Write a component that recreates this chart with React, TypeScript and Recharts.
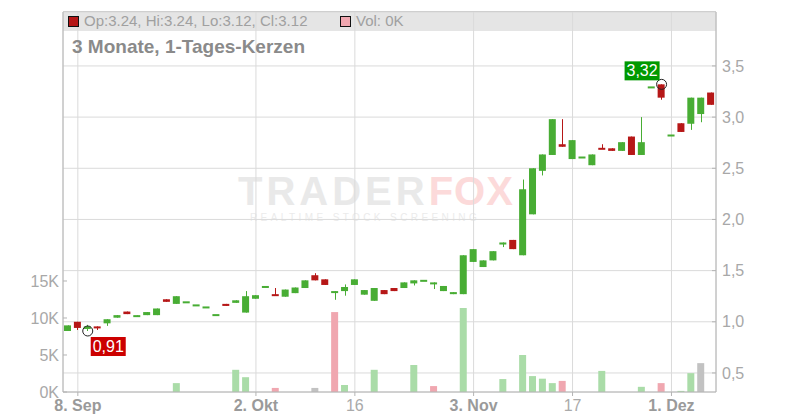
import { ComposedChart, Bar, Cell, XAxis, YAxis, CartesianGrid, ReferenceDot } from 'recharts';

const dates = [
  '05.09', '08.09', '09.09', '10.09', '11.09', '12.09', '15.09', '16.09', '17.09', '18.09', '19.09',
  '22.09', '23.09', '24.09', '25.09', '26.09', '29.09', '30.09', '01.10', '02.10', '03.10',
  '06.10', '07.10', '08.10', '09.10', '10.10', '13.10', '14.10', '15.10', '16.10', '17.10',
  '20.10', '21.10', '22.10', '23.10', '24.10', '27.10', '28.10', '29.10', '30.10', '31.10',
  '03.11', '04.11', '05.11', '06.11', '07.11', '10.11', '11.11', '12.11', '13.11', '14.11',
  '17.11', '18.11', '19.11', '20.11', '21.11', '24.11', '25.11', '26.11', '27.11', '28.11',
  '01.12', '02.12', '03.12', '04.12', '05.12',
];

const open = [
  0.91, 1.0, 0.93, 0.955, 0.985, 1.04, 1.1, 1.06, 1.065, 1.065, 1.22,
  1.175, 1.2, 1.17, 1.15, 1.075, 1.175, 1.185, 1.09, 1.225, 1.35,
  1.27, 1.245, 1.28, 1.33, 1.455, 1.415, 1.285, 1.3, 1.36, 1.265,
  1.205, 1.31, 1.33, 1.33, 1.375, 1.41, 1.375, 1.3, 1.27, 1.27,
  1.585, 1.535, 1.6, 1.755, 1.8, 1.65, 2.05, 2.475, 2.63, 2.735,
  2.59, 2.615, 2.53, 2.7, 2.695, 2.67, 2.81, 2.63, 3.3, 3.32,
  2.83, 2.94, 2.935, 3.03, 3.24,
];
const high = [
  0.965, 1.0, 0.97, 0.955, 1.025, 1.065, 1.1, 1.065, 1.095, 1.13, 1.22,
  1.25, 1.2, 1.17, 1.15, 1.075, 1.175, 1.21, 1.3, 1.26, 1.35,
  1.33, 1.315, 1.335, 1.405, 1.475, 1.415, 1.3, 1.365, 1.415, 1.31,
  1.33, 1.31, 1.33, 1.385, 1.405, 1.41, 1.385, 1.35, 1.29, 1.65,
  1.71, 1.6, 1.69, 1.775, 1.8, 2.39, 2.5, 2.635, 2.98, 2.98,
  2.775, 2.615, 2.635, 2.735, 2.695, 2.755, 2.81, 3.0, 3.3, 3.32,
  2.83, 2.94, 3.19, 3.19, 3.24,
];
const low = [
  0.91, 0.92, 0.91, 0.92, 0.96, 1.04, 1.075, 1.06, 1.065, 1.065, 1.195,
  1.175, 1.2, 1.17, 1.15, 1.075, 1.155, 1.185, 1.09, 1.225, 1.35,
  1.255, 1.245, 1.28, 1.33, 1.405, 1.36, 1.215, 1.255, 1.36, 1.265,
  1.205, 1.27, 1.3, 1.33, 1.355, 1.41, 1.32, 1.3, 1.27, 1.27,
  1.585, 1.535, 1.6, 1.73, 1.71, 1.65, 2.05, 2.43, 2.63, 2.71,
  2.59, 2.615, 2.53, 2.69, 2.67, 2.67, 2.63, 2.63, 3.3, 3.17,
  2.83, 2.855, 2.875, 2.95, 3.12,
];
const close = [
  0.965, 0.94, 0.955, 0.94, 1.025, 1.065, 1.075, 1.065, 1.095, 1.13, 1.195,
  1.25, 1.2, 1.17, 1.15, 1.075, 1.155, 1.21, 1.25, 1.26, 1.35,
  1.255, 1.315, 1.335, 1.405, 1.405, 1.36, 1.3, 1.34, 1.415, 1.31,
  1.33, 1.27, 1.3, 1.385, 1.405, 1.41, 1.385, 1.35, 1.29, 1.65,
  1.71, 1.6, 1.69, 1.775, 1.71, 2.295, 2.5, 2.635, 2.98, 2.71,
  2.775, 2.615, 2.635, 2.69, 2.67, 2.755, 2.63, 2.755, 3.3, 3.19,
  2.83, 2.855, 3.19, 3.19, 3.12,
];
const volume = [
  0, 0, 0, 0, 0, 0, 0, 0, 0, 0, 0,
  1200, 0, 0, 0, 0, 0, 3000, 2000, 0, 0,
  550, 0, 0, 0, 550, 0, 10800, 950, 0, 0,
  3000, 0, 0, 0, 3650, 0, 800, 0, 0, 11350,
  0, 0, 0, 1750, 0, 5000, 2150, 1800, 1200, 1500,
  0, 0, 0, 2850, 0, 0, 0, 700, 0, 1200,
  0, 150, 2550, 3900, 0,
];

const tickDates = ['08.09', '02.10', '16.10', '03.11', '17.11', '01.12'];
const tickNames: Record<string, string> = {
  '08.09': '8. Sep',
  '02.10': '2. Okt',
  '16.10': '16',
  '03.11': '3. Nov',
  '17.11': '17',
  '01.12': '1. Dez',
};
const priceTicks = [0.5, 1.0, 1.5, 2.0, 2.5, 3.0, 3.5];
const volTicks = [0, 5000, 10000, 15000];

const GREEN = '#48ad34';
const RED = '#b61717';
const FONT = '"Liberation Sans", Arial, sans-serif';

const data = dates.map((d, i) => ({
  d,
  o: open[i],
  h: high[i],
  l: low[i],
  c: close[i],
  v: volume[i],
}));

function volColor(i: number) {
  if (i === 0 || close[i] > close[i - 1]) return '#aadca8';
  if (close[i] < close[i - 1]) return '#f0a7b0';
  return '#c2c2c2';
}

function Candle(props: any) {
  const { x, y, width, height, payload } = props;
  const { o, h, l, c } = payload;
  const py = (p: number) => (h === l ? y : y + ((h - p) / (h - l)) * height);
  const color = c >= o ? GREEN : RED;
  const top = py(Math.max(o, c));
  const bot = py(Math.min(o, c));
  const cx = Math.round(x + width / 2) + 0.5;
  return (
    <g>
      {height > 0 && <line x1={cx} x2={cx} y1={y} y2={y + height} stroke={color} strokeWidth={1} />}
      <rect x={x} y={top} width={width} height={Math.max(bot - top, 2)} fill={color} />
    </g>
  );
}

function DateTick({ x, y, payload }: any) {
  const name = tickNames[payload.value] ?? payload.value;
  const bold = name.includes('.');
  return (
    <text
      x={x}
      y={y + 13}
      textAnchor="middle"
      fontFamily={FONT}
      fontSize={16}
      fontWeight={bold ? 'bold' : 'normal'}
      fill={bold ? '#9a9a9a' : '#aaaaaa'}
    >
      {name}
    </text>
  );
}

function LowTag({ cx, cy }: any) {
  return (
    <g>
      <circle cx={cx} cy={cy} r={5} fill="none" stroke="#222" strokeWidth={1} />
      <rect x={cx + 3} y={cy + 6} width={35} height={19} fill="#cc0000" />
      <text x={cx + 20.5} y={cy + 21} textAnchor="middle" fill="#fff" fontSize={16} fontFamily={FONT}>
        0,91
      </text>
    </g>
  );
}

function HighTag({ cx, cy }: any) {
  return (
    <g>
      <circle cx={cx} cy={cy} r={5} fill="none" stroke="#222" strokeWidth={1} />
      <rect x={cx - 37} y={cy - 23} width={35} height={19} fill="#009900" />
      <text x={cx - 19.5} y={cy - 8} textAnchor="middle" fill="#fff" fontSize={16} fontFamily={FONT}>
        3,32
      </text>
    </g>
  );
}

export default function App() {
  return (
    <div
      style={{
        position: 'absolute',
        left: 0,
        top: 0,
        width: 800,
        height: 420,
        background: '#fff',
        overflow: 'hidden',
        fontFamily: FONT,
      }}
    >
      {/* header band and watermark sit behind the svg */}
      <div
        style={{
          position: 'absolute',
          left: 63,
          top: 11,
          width: 653,
          height: 19,
          background: '#e5e5e5',
          borderTop: '1px solid #c4c4c4',
        }}
      />
      <div
        style={{
          position: 'absolute',
          left: 238,
          top: 171,
          fontSize: 40,
          fontWeight: 'bold',
          letterSpacing: 4,
          lineHeight: '40px',
          whiteSpace: 'nowrap',
        }}
      >
        <span style={{ color: '#e9e9e9' }}>TRADER</span>
        <span style={{ color: '#fcdada', letterSpacing: 1 }}>FOX</span>
      </div>
      <div
        style={{
          position: 'absolute',
          left: 250,
          top: 212,
          fontSize: 10,
          lineHeight: '12px',
          letterSpacing: 3.4,
          color: '#ebebeb',
          whiteSpace: 'nowrap',
        }}
      >
        REALTIME STOCK SCREENING
      </div>

      <div style={{ position: 'absolute', left: 0, top: 0 }}>
        <ComposedChart
          width={800}
          height={420}
          data={data}
          margin={{ top: 12, right: 0, bottom: 0, left: 0 }}
          barSize={7}
          barGap={-7}
        >
          <CartesianGrid yAxisId="price" stroke="#dadada" />
          <XAxis
            dataKey="d"
            ticks={tickDates}
            interval={0}
            height={28}
            tick={<DateTick />}
            tickSize={4}
            tickMargin={2}
            stroke="#b4b4b4"
          />
          <YAxis
            yAxisId="vol"
            orientation="left"
            width={63}
            domain={[0, 51350]}
            ticks={volTicks}
            tickFormatter={(v: number) => `${v / 1000}K`}
            tick={{ fill: '#a8a8a8', fontSize: 16, fontFamily: FONT }}
            tickSize={-4}
            tickMargin={8}
            stroke="#b4b4b4"
            allowDataOverflow
          />
          <YAxis
            yAxisId="price"
            orientation="right"
            width={84}
            domain={[0.314, 4.027]}
            ticks={priceTicks}
            tickFormatter={(v: number) => v.toFixed(1).replace('.', ',')}
            tick={{ fill: '#a8a8a8', fontSize: 16, fontFamily: FONT }}
            tickSize={-4}
            tickMargin={10}
            stroke="#b4b4b4"
            allowDataOverflow
          />
          <Bar yAxisId="vol" dataKey="v" isAnimationActive={false}>
            {data.map((_, i) => (
              <Cell key={i} fill={volColor(i)} />
            ))}
          </Bar>
          <Bar
            yAxisId="price"
            dataKey={(p: any) => [p.l, p.h]}
            shape={<Candle />}
            isAnimationActive={false}
          />
          <ReferenceDot yAxisId="price" x="09.09" y={0.91} r={5} shape={<LowTag />} />
          <ReferenceDot yAxisId="price" x="28.11" y={3.32} r={5} shape={<HighTag />} />
        </ComposedChart>
      </div>

      {/* header texts */}
      <div
        style={{
          position: 'absolute',
          left: 68,
          top: 16,
          width: 9,
          height: 9,
          background: RED,
          border: '1px solid #111',
        }}
      />
      <div style={{ position: 'absolute', left: 84, top: 12, fontSize: 15, color: '#a0a0a0', whiteSpace: 'nowrap' }}>
        Op:3.24, Hi:3.24, Lo:3.12, Cl:3.12
      </div>
      <div
        style={{
          position: 'absolute',
          left: 340,
          top: 16,
          width: 9,
          height: 9,
          background: '#f0a7b0',
          border: '1px solid #111',
        }}
      />
      <div style={{ position: 'absolute', left: 356, top: 12, fontSize: 15, color: '#a0a0a0', whiteSpace: 'nowrap' }}>
        Vol: 0K
      </div>
      <div
        style={{
          position: 'absolute',
          left: 72,
          top: 36,
          fontSize: 19,
          fontWeight: 'bold',
          color: '#8a8a8a',
          whiteSpace: 'nowrap',
        }}
      >
        3 Monate, 1-Tages-Kerzen
      </div>
    </div>
  );
}
